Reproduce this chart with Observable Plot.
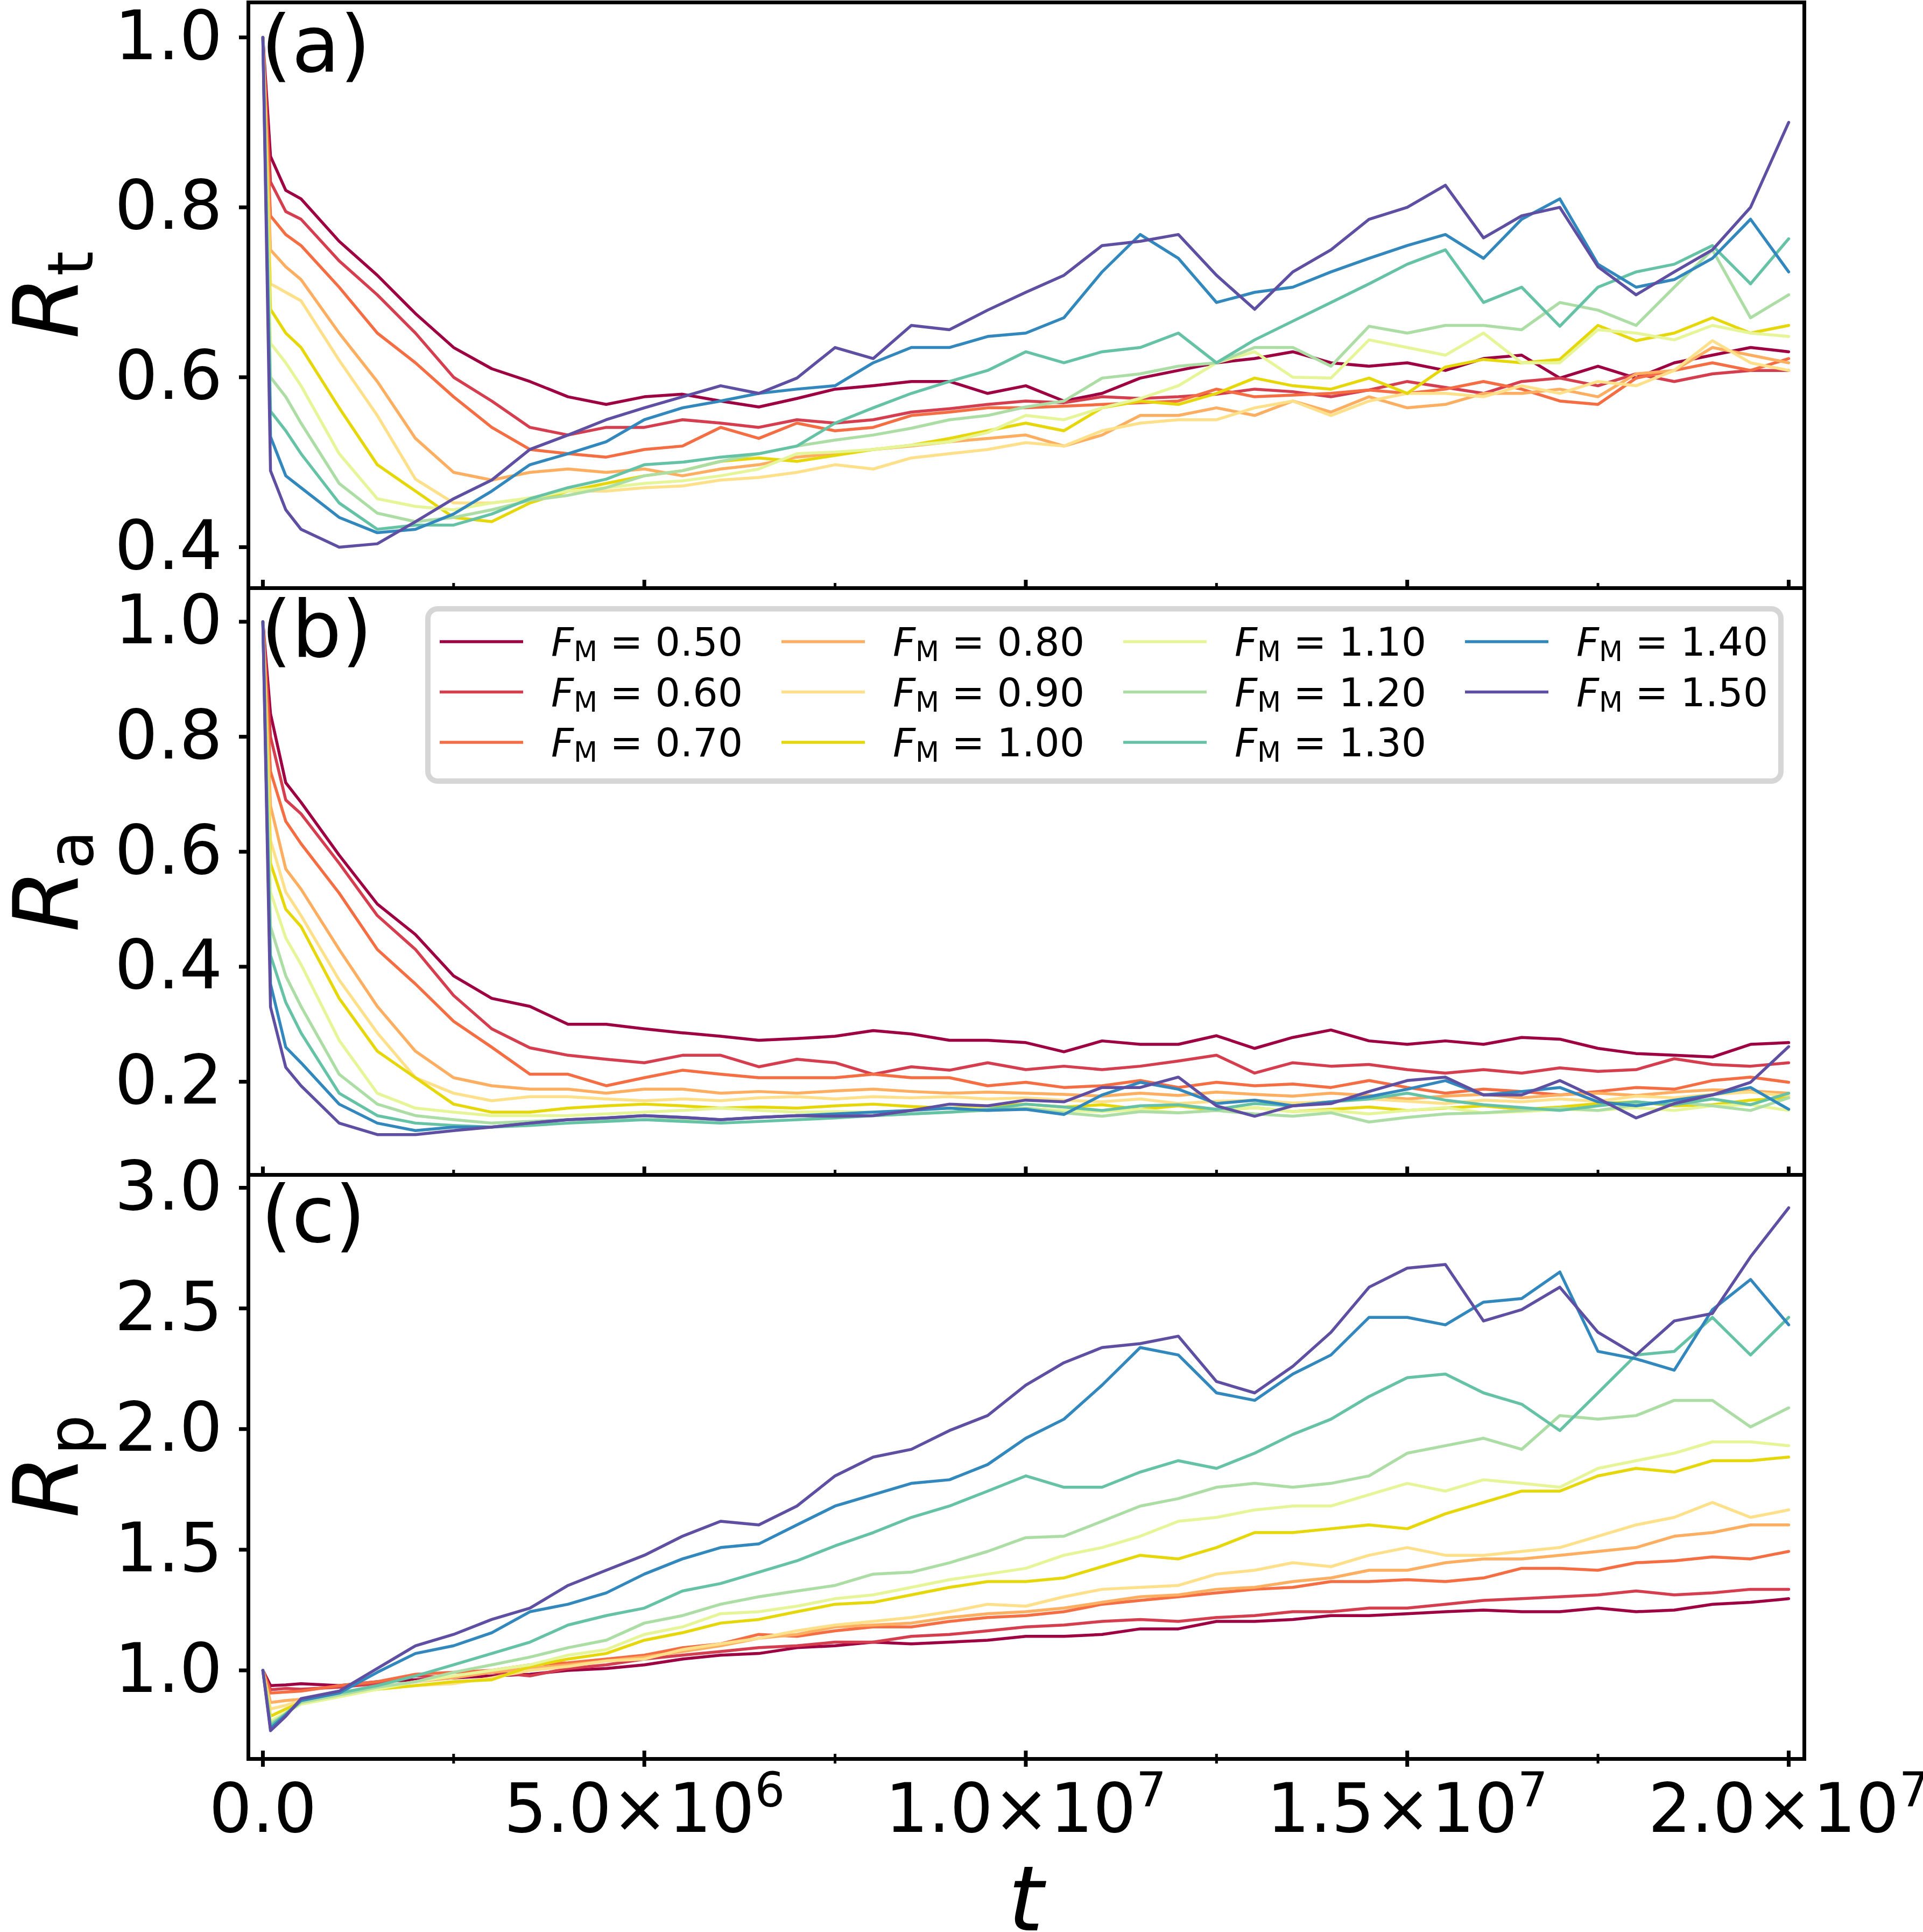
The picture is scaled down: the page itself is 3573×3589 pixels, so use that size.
<!DOCTYPE html>
<html><head><meta charset="utf-8">
<script src="https://cdn.jsdelivr.net/npm/d3@7"></script>
<script src="https://cdn.jsdelivr.net/npm/@observablehq/plot@0.6"></script>
<style>
html,body{margin:0;padding:0;background:#fff;}
#chart{position:relative;width:3573px;height:3589px;overflow:hidden;background:#fff;font-family:"DejaVu Sans";}
#chart svg{position:absolute;left:0;}
</style></head><body><div id="chart"></div>
<script>
// time grid, in units of 1e6
const T = [0,0.1,0.3,0.5,1,1.5,2,2.5,3,3.5,4,4.5,5,5.5,6,6.5,7,7.5,8,8.5,9,9.5,10,10.5,11,11.5,12,12.5,13,13.5,14,14.5,15,15.5,16,16.5,17,17.5,18,18.5,19,19.5,20];
const FM = ["0.50","0.60","0.70","0.80","0.90","1.00","1.10","1.20","1.30","1.40","1.50"];
const COLORS = ["#9e0142","#d53e4f","#f46d43","#fdae61","#fee08b","#e6d70a","#e6f598","#abdda4","#66c2a5","#3288bd","#5e4fa2"];

// panel (a) R_t
const A050 = [1.0,0.86,0.82,0.81,0.76,0.72,0.675,0.635,0.61,0.595,0.577,0.568,0.577,0.58,0.572,0.565,0.575,0.586,0.59,0.595,0.595,0.581,0.59,0.572,0.581,0.599,0.608,0.617,0.622,0.63,0.617,0.613,0.617,0.608,0.622,0.626,0.599,0.613,0.599,0.617,0.626,0.635,0.63];
const A060 = [1.0,0.83,0.795,0.786,0.737,0.697,0.652,0.60,0.572,0.541,0.532,0.541,0.541,0.550,0.546,0.541,0.550,0.546,0.550,0.559,0.563,0.568,0.572,0.570,0.577,0.575,0.577,0.580,0.586,0.583,0.577,0.585,0.595,0.588,0.581,0.595,0.599,0.590,0.604,0.595,0.604,0.608,0.608];
const A070 = [1.0,0.79,0.768,0.755,0.706,0.652,0.617,0.577,0.541,0.515,0.51,0.506,0.515,0.519,0.541,0.528,0.546,0.537,0.541,0.555,0.559,0.564,0.564,0.566,0.568,0.570,0.572,0.586,0.577,0.579,0.581,0.585,0.581,0.586,0.595,0.586,0.572,0.568,0.599,0.608,0.617,0.608,0.622];
const A080 = [1.0,0.75,0.73,0.715,0.652,0.595,0.528,0.488,0.479,0.488,0.492,0.488,0.492,0.484,0.492,0.497,0.506,0.510,0.515,0.519,0.524,0.528,0.532,0.519,0.532,0.555,0.555,0.564,0.555,0.572,0.559,0.577,0.564,0.568,0.581,0.581,0.586,0.577,0.604,0.608,0.635,0.626,0.617];
const A090 = [1.0,0.71,0.70,0.69,0.62,0.555,0.48,0.452,0.452,0.457,0.466,0.466,0.470,0.472,0.479,0.482,0.488,0.497,0.492,0.505,0.510,0.515,0.523,0.519,0.537,0.546,0.550,0.550,0.564,0.572,0.555,0.572,0.581,0.581,0.577,0.590,0.581,0.595,0.590,0.608,0.643,0.617,0.608];
const A100 = [1.0,0.68,0.652,0.635,0.564,0.497,0.466,0.435,0.430,0.452,0.466,0.475,0.484,0.490,0.501,0.505,0.501,0.508,0.515,0.520,0.528,0.537,0.546,0.537,0.564,0.572,0.568,0.581,0.599,0.590,0.586,0.599,0.581,0.612,0.621,0.617,0.621,0.661,0.643,0.652,0.670,0.652,0.661];
const A110 = [1.0,0.64,0.617,0.59,0.51,0.457,0.448,0.444,0.452,0.458,0.466,0.470,0.475,0.478,0.484,0.492,0.510,0.512,0.515,0.520,0.524,0.535,0.555,0.550,0.564,0.575,0.590,0.617,0.630,0.600,0.599,0.644,0.635,0.626,0.652,0.617,0.617,0.656,0.652,0.644,0.661,0.652,0.648];
const A120 = [1.0,0.60,0.577,0.546,0.475,0.44,0.430,0.435,0.444,0.455,0.461,0.470,0.484,0.490,0.501,0.510,0.519,0.526,0.532,0.540,0.550,0.555,0.565,0.572,0.599,0.604,0.613,0.617,0.635,0.635,0.613,0.660,0.652,0.661,0.661,0.656,0.688,0.679,0.661,0.706,0.750,0.670,0.697];
const A130 = [1.0,0.56,0.537,0.51,0.452,0.421,0.426,0.426,0.439,0.457,0.470,0.480,0.497,0.500,0.506,0.510,0.519,0.546,0.564,0.581,0.595,0.608,0.630,0.617,0.630,0.635,0.652,0.617,0.644,0.666,0.688,0.71,0.733,0.75,0.688,0.706,0.66,0.706,0.724,0.733,0.755,0.71,0.763];
const A140 = [1.0,0.53,0.484,0.47,0.435,0.417,0.421,0.439,0.466,0.497,0.510,0.524,0.550,0.564,0.572,0.581,0.586,0.590,0.617,0.635,0.635,0.648,0.652,0.67,0.724,0.768,0.74,0.688,0.70,0.706,0.724,0.74,0.755,0.768,0.74,0.786,0.81,0.733,0.706,0.715,0.74,0.786,0.724];
const A150 = [1.0,0.49,0.444,0.421,0.40,0.404,0.430,0.457,0.479,0.515,0.532,0.550,0.564,0.577,0.590,0.581,0.599,0.635,0.622,0.661,0.656,0.679,0.70,0.72,0.755,0.76,0.768,0.72,0.68,0.724,0.75,0.786,0.80,0.826,0.764,0.79,0.80,0.73,0.697,0.724,0.75,0.80,0.90];

// panel (b) R_a
const B050 = [1.0,0.84,0.72,0.686,0.594,0.509,0.456,0.384,0.345,0.331,0.30,0.30,0.292,0.285,0.279,0.272,0.275,0.279,0.289,0.283,0.272,0.272,0.268,0.252,0.271,0.265,0.265,0.28,0.258,0.277,0.29,0.271,0.265,0.271,0.265,0.277,0.274,0.258,0.249,0.246,0.243,0.265,0.268];
const B060 = [1.0,0.80,0.69,0.666,0.58,0.489,0.43,0.35,0.292,0.259,0.246,0.239,0.233,0.246,0.246,0.226,0.239,0.233,0.213,0.226,0.220,0.233,0.221,0.227,0.221,0.227,0.236,0.246,0.215,0.233,0.227,0.230,0.221,0.215,0.221,0.215,0.224,0.218,0.221,0.24,0.230,0.227,0.233];
const B070 = [1.0,0.74,0.653,0.614,0.528,0.43,0.37,0.305,0.26,0.213,0.213,0.193,0.207,0.220,0.213,0.207,0.207,0.207,0.213,0.207,0.207,0.193,0.199,0.190,0.193,0.202,0.190,0.199,0.193,0.196,0.190,0.202,0.190,0.180,0.187,0.183,0.177,0.183,0.190,0.187,0.202,0.208,0.199];
const B080 = [1.0,0.68,0.57,0.535,0.43,0.331,0.253,0.207,0.193,0.187,0.187,0.180,0.187,0.187,0.180,0.183,0.180,0.184,0.187,0.183,0.180,0.182,0.180,0.178,0.175,0.180,0.176,0.182,0.178,0.175,0.180,0.176,0.170,0.175,0.178,0.172,0.177,0.180,0.176,0.182,0.186,0.184,0.180];
const B090 = [1.0,0.62,0.53,0.489,0.377,0.285,0.207,0.18,0.167,0.174,0.174,0.170,0.167,0.170,0.167,0.172,0.174,0.170,0.174,0.172,0.174,0.170,0.172,0.168,0.165,0.170,0.162,0.166,0.168,0.163,0.165,0.170,0.166,0.162,0.168,0.165,0.170,0.166,0.175,0.172,0.178,0.182,0.175];
const B100 = [1.0,0.58,0.50,0.47,0.345,0.253,0.207,0.161,0.147,0.147,0.154,0.158,0.161,0.158,0.154,0.156,0.154,0.158,0.161,0.157,0.154,0.158,0.161,0.156,0.160,0.152,0.158,0.150,0.155,0.148,0.152,0.156,0.150,0.154,0.158,0.152,0.156,0.162,0.165,0.158,0.160,0.168,0.172];
const B110 = [1.0,0.53,0.45,0.404,0.272,0.18,0.154,0.147,0.141,0.141,0.141,0.144,0.147,0.150,0.154,0.150,0.147,0.148,0.147,0.150,0.154,0.152,0.154,0.150,0.148,0.152,0.146,0.150,0.155,0.148,0.150,0.144,0.150,0.155,0.146,0.148,0.152,0.150,0.155,0.150,0.158,0.160,0.150];
const B120 = [1.0,0.47,0.384,0.331,0.213,0.161,0.141,0.134,0.128,0.131,0.134,0.134,0.134,0.136,0.134,0.138,0.141,0.140,0.141,0.144,0.147,0.150,0.154,0.146,0.140,0.148,0.146,0.150,0.144,0.140,0.146,0.130,0.138,0.144,0.146,0.150,0.154,0.150,0.160,0.165,0.158,0.150,0.172];
const B130 = [1.0,0.42,0.338,0.285,0.18,0.141,0.128,0.124,0.121,0.124,0.128,0.131,0.134,0.131,0.128,0.131,0.134,0.137,0.141,0.144,0.147,0.152,0.161,0.156,0.150,0.158,0.160,0.152,0.162,0.158,0.165,0.170,0.180,0.168,0.160,0.155,0.150,0.158,0.165,0.160,0.170,0.160,0.180];
const B140 = [1.0,0.37,0.26,0.233,0.161,0.128,0.115,0.121,0.121,0.128,0.134,0.137,0.141,0.138,0.134,0.138,0.141,0.144,0.147,0.150,0.154,0.150,0.152,0.143,0.177,0.199,0.187,0.162,0.168,0.158,0.165,0.174,0.187,0.202,0.177,0.183,0.190,0.165,0.158,0.168,0.177,0.190,0.152];
const B150 = [1.0,0.33,0.225,0.193,0.128,0.108,0.108,0.115,0.121,0.128,0.134,0.137,0.141,0.138,0.134,0.138,0.141,0.140,0.141,0.150,0.161,0.158,0.168,0.165,0.190,0.190,0.208,0.158,0.140,0.158,0.162,0.183,0.202,0.208,0.177,0.177,0.202,0.171,0.137,0.162,0.177,0.199,0.261];

// panel (c) R_p
const C050 = [1.0,0.937,0.94,0.945,0.937,0.953,0.961,0.969,0.977,0.984,1.0,1.008,1.023,1.047,1.063,1.070,1.094,1.102,1.117,1.110,1.117,1.125,1.141,1.141,1.149,1.172,1.172,1.203,1.203,1.211,1.227,1.227,1.235,1.243,1.250,1.243,1.243,1.258,1.243,1.250,1.274,1.282,1.297];
const C060 = [1.0,0.92,0.925,0.922,0.930,0.945,0.977,0.969,0.992,0.977,1.008,1.023,1.047,1.063,1.078,1.094,1.102,1.117,1.117,1.141,1.149,1.164,1.180,1.188,1.203,1.211,1.203,1.219,1.227,1.243,1.243,1.258,1.258,1.274,1.290,1.297,1.305,1.313,1.329,1.313,1.321,1.336,1.336];
const C070 = [1.0,0.906,0.91,0.914,0.937,0.953,0.984,0.992,1.0,1.023,1.031,1.047,1.063,1.094,1.110,1.149,1.141,1.164,1.180,1.180,1.203,1.219,1.227,1.243,1.274,1.290,1.305,1.321,1.336,1.344,1.368,1.368,1.376,1.368,1.383,1.423,1.423,1.415,1.446,1.454,1.470,1.462,1.493];
const C080 = [1.0,0.867,0.875,0.88,0.906,0.930,0.953,0.969,0.992,1.008,1.023,1.039,1.055,1.078,1.102,1.133,1.149,1.180,1.188,1.196,1.219,1.235,1.243,1.258,1.282,1.305,1.313,1.336,1.344,1.368,1.383,1.415,1.415,1.446,1.462,1.462,1.477,1.493,1.509,1.556,1.571,1.603,1.603];
const C090 = [1.0,0.84,0.855,0.875,0.906,0.922,0.937,0.945,0.969,1.0,1.016,1.039,1.047,1.086,1.110,1.133,1.164,1.188,1.203,1.219,1.243,1.274,1.266,1.305,1.336,1.344,1.352,1.399,1.415,1.446,1.430,1.477,1.509,1.477,1.477,1.493,1.509,1.556,1.603,1.634,1.696,1.634,1.665];
const C100 = [1.0,0.81,0.84,0.867,0.898,0.922,0.937,0.953,0.961,1.016,1.047,1.070,1.125,1.156,1.196,1.211,1.243,1.274,1.282,1.313,1.344,1.368,1.368,1.383,1.430,1.477,1.462,1.509,1.571,1.571,1.587,1.603,1.587,1.649,1.696,1.743,1.743,1.806,1.837,1.822,1.869,1.869,1.884];
const C110 = [1.0,0.79,0.825,0.86,0.890,0.922,0.953,0.977,1.0,1.023,1.063,1.086,1.149,1.180,1.235,1.243,1.266,1.297,1.313,1.344,1.376,1.399,1.423,1.477,1.509,1.556,1.618,1.634,1.665,1.681,1.681,1.728,1.775,1.743,1.790,1.775,1.759,1.837,1.869,1.900,1.947,1.947,1.931];
const C120 = [1.0,0.78,0.82,0.867,0.898,0.930,0.953,0.992,1.023,1.055,1.094,1.125,1.196,1.227,1.274,1.305,1.329,1.352,1.399,1.407,1.446,1.493,1.550,1.556,1.618,1.681,1.712,1.759,1.775,1.759,1.775,1.806,1.900,1.931,1.962,1.916,2.056,2.041,2.056,2.119,2.119,2.009,2.088];
const C130 = [1.0,0.77,0.82,0.875,0.906,0.937,0.977,1.023,1.070,1.117,1.188,1.227,1.258,1.329,1.360,1.407,1.454,1.516,1.571,1.634,1.681,1.743,1.806,1.759,1.759,1.822,1.869,1.837,1.900,1.978,2.041,2.135,2.213,2.228,2.150,2.103,1.994,2.150,2.307,2.322,2.463,2.307,2.463];
const C140 = [1.0,0.76,0.815,0.875,0.906,0.992,1.070,1.102,1.156,1.243,1.274,1.321,1.399,1.462,1.509,1.524,1.603,1.681,1.728,1.775,1.790,1.853,1.962,2.041,2.182,2.338,2.307,2.150,2.119,2.228,2.307,2.463,2.463,2.432,2.526,2.541,2.651,2.322,2.291,2.244,2.495,2.620,2.432];
const C150 = [1.0,0.75,0.81,0.883,0.914,1.008,1.102,1.149,1.211,1.258,1.352,1.415,1.477,1.556,1.618,1.603,1.681,1.806,1.884,1.916,1.994,2.056,2.182,2.275,2.338,2.354,2.385,2.197,2.150,2.260,2.401,2.588,2.667,2.682,2.448,2.495,2.588,2.401,2.307,2.448,2.479,2.714,2.917];

const X_MAJOR = [0, 5e6, 1e7, 1.5e7, 2e7];
const X_MINOR = [2.5e6, 7.5e6, 1.25e7, 1.75e7];
const TICKS_A = [0.4, 0.6, 0.8, 1.0];
const TICKS_B = [0.2, 0.4, 0.6, 0.8, 1.0];
const TICKS_C = [1.0, 1.5, 2.0, 2.5, 3.0];

function rows(series) {
  const out = [];
  series.forEach((vals, k) => vals.forEach((v, i) => out.push({t: T[i] * 1e6, v, s: FM[k]})));
  return out;
}
const xfmt = d => {
  if (d === 0) return "0.0";
  const e = Math.floor(Math.log10(d) + 1e-9);
  return (d / Math.pow(10, e)).toFixed(1) + "×10^" + e;
};
const FONT = "DejaVu Sans";
const chart = document.getElementById("chart");

function panel({series, yDomain, yTicks, top, mt, frameH, mb, xLabels}) {
  const height = mt + frameH + mb;
  const marks = [
    Plot.line(rows(series), {x: "t", y: "v", z: "s", stroke: "s", strokeWidth: 5.5, clip: true}),
    Plot.frame({stroke: "black", strokeWidth: 7}),
    Plot.tickX(X_MAJOR, {x: d => d, insetTop: frameH - 15, insetBottom: xLabels ? -15 : 0, stroke: "black", strokeWidth: 7}),
    Plot.tickX(X_MINOR, {x: d => d, insetTop: frameH - 9, insetBottom: xLabels ? -9 : 0, stroke: "black", strokeWidth: 5}),
    Plot.axisY(yTicks, {tickSize: 17, tickPadding: 31, fontSize: 126, tickFormat: d3.format(".1f"), label: null, strokeWidth: 7, fill: "black", stroke: "black"})
  ];
  if (xLabels) marks.push(Plot.axisX(X_MAJOR, {tickSize: 0, tickPadding: 46, fontSize: 126, tickFormat: xfmt, label: null, fill: "black"}));
  const svg = Plot.plot({
    width: 3573, height,
    marginLeft: 461, marginRight: 221, marginTop: mt, marginBottom: mb,
    x: {domain: [-0.19e6, 20.205e6], axis: null},
    y: {domain: yDomain, axis: null},
    color: {domain: FM, range: COLORS},
    style: {background: "none", overflow: "visible", fontFamily: FONT, maxWidth: "none", color: "black"},
    marks
  });
  svg.style.top = top + "px";
  chart.appendChild(svg);
  return svg;
}

function ylabel(svg, sub, cy) {
  const t = d3.select(svg).append("text")
    .attr("transform", `translate(145,${cy}) rotate(-90)`)
    .attr("text-anchor", "middle").attr("font-family", FONT).attr("font-size", 168).attr("fill", "black");
  t.append("tspan").attr("font-style", "italic").text("R");
  t.append("tspan").attr("font-size", 118).attr("dy", 27).text(sub);
}
function tag(svg, s, y) {
  d3.select(svg).append("text").attr("x", 485).attr("y", y).attr("text-anchor", "start")
    .attr("font-family", FONT).attr("font-size", 146).attr("fill", "black").text(s);
}

// (a)
const svgA = panel({series: [A050,A060,A070,A080,A090,A100,A110,A120,A130,A140,A150], yDomain: [0.3518, 1.0412], yTicks: TICKS_A, top: 0, mt: 4, frameH: 1088, mb: 8, xLabels: false});
ylabel(svgA, "t", 548); tag(svgA, "(a)", 133);

// (b)
const svgB = panel({series: [B050,B060,B070,B080,B090,B100,B110,B120,B130,B140,B150], yDomain: [0.038, 1.0585], yTicks: TICKS_B, top: 1082, mt: 10, frameH: 1090, mb: 8, xLabels: false});
ylabel(svgB, "a", 1637 - 1082); tag(svgB, "(b)", 1220 - 1082);

// legend inside (b)
{
  const off = 1082;
  const g = d3.select(svgB).append("g");
  g.append("rect").attr("x", 795).attr("y", 1131 - off).attr("width", 2514).attr("height", 320)
    .attr("rx", 18).attr("fill", "white").attr("stroke", "#d6d6d6").attr("stroke-width", 10);
  FM.forEach((f, k) => {
    const c = Math.floor(k / 3), r = k % 3;
    const x0 = 817 + 635 * c, yc = 1192 + 93.5 * r - off;
    g.append("line").attr("x1", x0).attr("x2", x0 + 155).attr("y1", yc).attr("y2", yc)
      .attr("stroke", COLORS[k]).attr("stroke-width", 5.5);
    const t = g.append("text").attr("x", x0 + 207).attr("y", yc + 26).attr("text-anchor", "start")
      .attr("font-family", FONT).attr("font-size", 73).attr("fill", "black");
    t.append("tspan").attr("font-style", "italic").text("F");
    t.append("tspan").attr("font-size", 51).attr("dy", 10).text("M");
    t.append("tspan").attr("dy", -10).text(" = " + f);
  });
}

// (c)
const svgC = panel({series: [C050,C060,C070,C080,C090,C100,C110,C120,C130,C140,C150], yDomain: [0.633, 3.0535], yTicks: TICKS_C, top: 2172, mt: 10, frameH: 1085, mb: 322, xLabels: true});
ylabel(svgC, "p", 2724 - 2172); tag(svgC, "(c)", 2307 - 2172);
d3.select(svgC).selectAll("text").each(function() {
  const s = this.textContent; const i = s.indexOf("^");
  if (i < 0) return;
  const base = s.slice(0, i), sup = s.slice(i + 1);
  this.textContent = "";
  d3.select(this).append("tspan").text(base);
  d3.select(this).append("tspan").attr("font-size", "0.7em").attr("dy", "-0.53em").text(sup);
});
d3.select(svgC).append("text").attr("x", 1906).attr("y", 3586 - 2172).attr("text-anchor", "middle")
  .attr("font-family", FONT).attr("font-style", "italic").attr("font-size", 168).attr("fill", "black").text("t");
</script></body></html>
